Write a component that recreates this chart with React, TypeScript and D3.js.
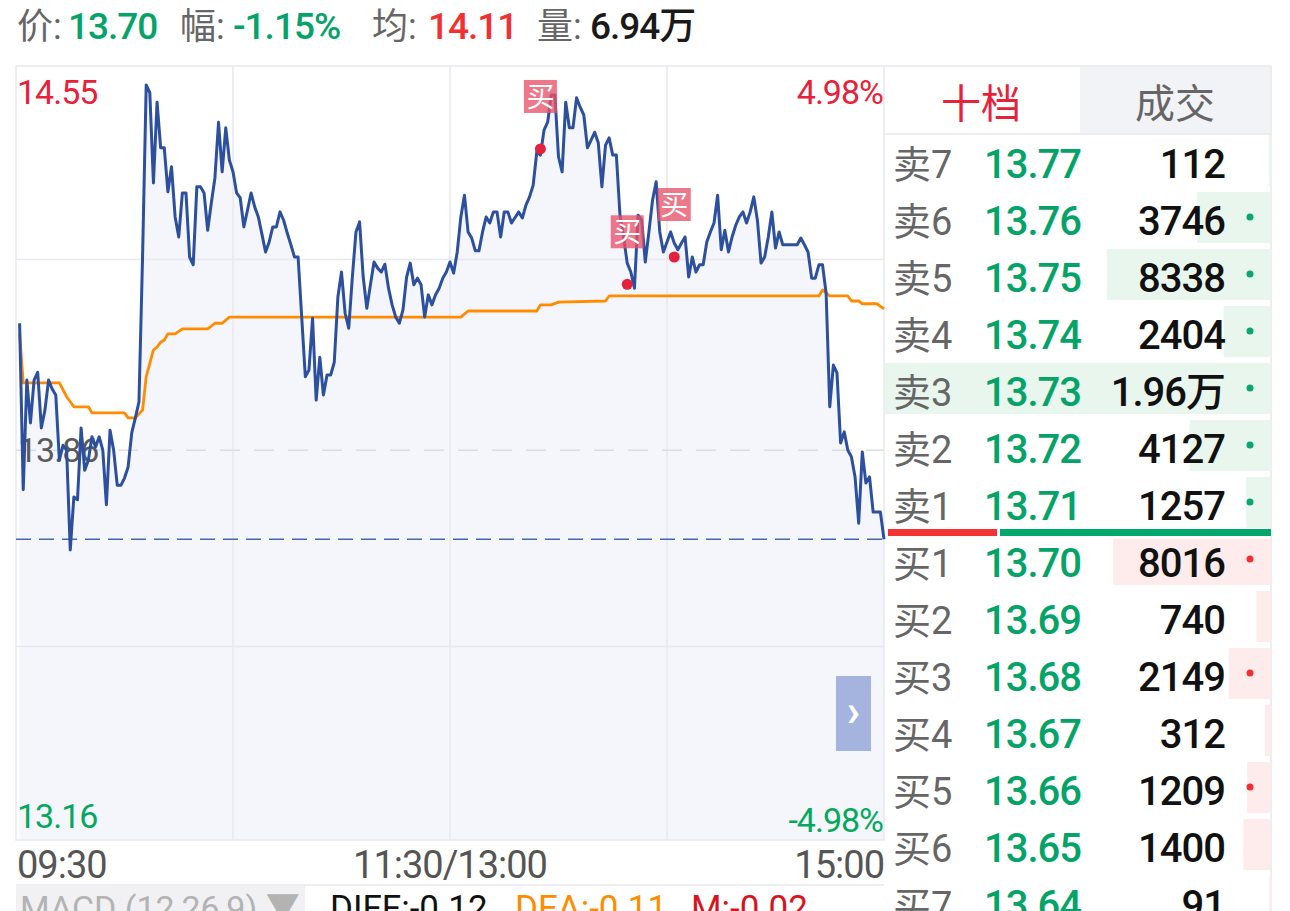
import React from 'react';
import * as d3 from 'd3';

// ---- intraday price, one value per minute (minute 1..240)
const prices: number[] = [
  14.088, 13.789, 13.986, 13.909, 13.986, 14.000, 13.900, 13.932, 13.986, 13.970,
  13.959, 13.842, 13.869, 13.860, 13.681, 13.776, 13.771, 13.900, 13.824, 13.842,
  13.884, 13.866, 13.884, 13.860, 13.762, 13.896, 13.860, 13.797, 13.797, 13.810,
  13.830, 13.891, 13.918, 13.947, 14.209, 14.516, 14.502, 14.340, 14.485, 14.403,
  14.403, 14.324, 14.369, 14.279, 14.243, 14.322, 14.322, 14.207, 14.193, 14.333,
  14.333, 14.322, 14.255, 14.304, 14.349, 14.449, 14.360, 14.439, 14.381, 14.360,
  14.322, 14.313, 14.261, 14.291, 14.322, 14.297, 14.279, 14.248, 14.216, 14.234,
  14.261, 14.261, 14.288, 14.273, 14.250, 14.229, 14.207, 14.207, 14.099, 13.992,
  14.004, 14.097, 13.950, 14.027, 13.959, 13.995, 13.995, 14.018, 14.135, 14.180,
  14.106, 14.079, 14.171, 14.252, 14.270, 14.171, 14.115, 14.157, 14.198, 14.187,
  14.180, 14.194, 14.151, 14.121, 14.099, 14.088, 14.112, 14.171, 14.196, 14.157,
  14.169, 14.157, 14.099, 14.139, 14.121, 14.139, 14.151, 14.169, 14.180, 14.198,
  14.178, 14.216, 14.279, 14.318, 14.252, 14.241, 14.218, 14.218, 14.252, 14.279,
  14.268, 14.288, 14.288, 14.243, 14.288, 14.288, 14.268, 14.278, 14.288, 14.277,
  14.300, 14.315, 14.336, 14.396, 14.390, 14.435, 14.449, 14.498, 14.498, 14.387,
  14.360, 14.485, 14.439, 14.439, 14.493, 14.476, 14.462, 14.403, 14.417, 14.431,
  14.412, 14.333, 14.408, 14.421, 14.390, 14.390, 14.282, 14.243, 14.196, 14.180,
  14.151, 14.282, 14.273, 14.198, 14.252, 14.309, 14.342, 14.252, 14.216, 14.234,
  14.252, 14.232, 14.220, 14.232, 14.243, 14.171, 14.207, 14.180, 14.193, 14.193,
  14.234, 14.252, 14.268, 14.318, 14.220, 14.255, 14.216, 14.243, 14.264, 14.279,
  14.288, 14.268, 14.288, 14.315, 14.273, 14.196, 14.207, 14.243, 14.288, 14.223,
  14.252, 14.229, 14.229, 14.229, 14.229, 14.229, 14.241, 14.229, 14.216, 14.169,
  14.169, 14.193, 14.193, 14.142, 13.938, 14.013, 13.999, 13.873, 13.893, 13.860,
  13.848, 13.812, 13.729, 13.857, 13.801, 13.812, 13.749, 13.749, 13.749, 13.700,
];

// ---- average price line: [minute, price] vertices
const avgMinutes: number[] = [1, 2, 12, 14, 16, 20, 21, 30, 31, 33, 35, 36, 38, 39, 40, 41, 42, 44, 46, 53, 55, 57, 59, 123, 125, 144, 145, 148, 150, 163, 164, 222, 223, 225, 230, 231, 233, 234, 238, 240];
const avgValues: number[] = [14.070, 13.981, 13.981, 13.956, 13.938, 13.938, 13.927, 13.927, 13.918, 13.918, 13.932, 13.992, 14.040, 14.045, 14.054, 14.058, 14.069, 14.069, 14.078, 14.078, 14.088, 14.088, 14.099, 14.099, 14.110, 14.110, 14.121, 14.121, 14.126, 14.128, 14.137, 14.137, 14.148, 14.137, 14.137, 14.128, 14.128, 14.123, 14.123, 14.114];

const priceMax = 14.55;
const priceMin = 13.16;
const prevClose = 13.86;
const lastPrice = 13.70;
const pctUp = '4.98%';
const pctDown = '-4.98%';
const timeLabels = ['09:30', '11:30/13:00', '15:00'];

const buyMarkMinutes = [145, 169, 182];
const buyMarkPrices = [14.401, 14.158, 14.207];

// header
const headerLabels = ['价:', '幅:', '均:', '量:'];
const headerValues = ['13.70', '-1.15%', '14.11', '6.94万'];

// order book
const tabs = ['十档', '成交'];
const sellLabels = ['卖7', '卖6', '卖5', '卖4', '卖3', '卖2', '卖1'];
const sellPrices = ['13.77', '13.76', '13.75', '13.74', '13.73', '13.72', '13.71'];
const sellVols = [112, 3746, 8338, 2404, 19600, 4127, 1257];
const sellVolText = ['112', '3746', '8338', '2404', '1.96万', '4127', '1257'];
const sellDots = [false, true, true, true, true, true, true];
const buyLabels = ['买1', '买2', '买3', '买4', '买5', '买6', '买7'];
const buyPrices = ['13.70', '13.69', '13.68', '13.67', '13.66', '13.65', '13.64'];
const buyVols = [8016, 740, 2149, 312, 1209, 1400, 91];
const buyVolText = ['8016', '740', '2149', '312', '1209', '1400', '91'];
const buyDots = [true, false, true, false, true, false, false];

const macdLabel = 'MACD (12,26,9) ▼';
const macdItems = ['DIFF:-0.12', 'DEA:-0.11', 'M:-0.02'];

const NUM = "Roboto, 'Noto Sans CJK SC', sans-serif";
const GREEN = '#06a369';
const RED = '#e8213b';
const GRAY = '#666666';
const GRID = '#e8e8ee';

export default function App() {
  const L = 16, R = 884, T = 66, B = 840;
  const x = d3.scaleLinear().domain([0, 240]).range([L, R]);
  const y = d3.scaleLinear().domain([priceMin, priceMax]).range([B, T]);

  const line = d3.line<number>().x((_, i) => x(i + 1)).y((d) => y(d));
  const area = d3.area<number>().x((_, i) => x(i + 1)).y0(B).y1((d) => y(d));
  const avgLine = d3.line<number>().x((_, i) => x(avgMinutes[i])).y((d) => y(d));

  const hq = [0.25, 0.75].map((f) => y(priceMin + (priceMax - priceMin) * f));
  const vq = [60, 120, 180].map((m) => x(m));

  const PL = 885, PR = 1271;
  const vol = d3.scaleLinear().domain([0, 19600]).range([0, PR - PL]);
  const rowH = 57;
  const sellTop = 135;
  const buyTop = 534;

  const headerX = [17, 180, 372, 537];
  const headerValX = [68, 233, 428, 590];
  const headerColors = [GREEN, GREEN, '#f23030', '#1a1a1a'];

  const timeX = [L + 1, (L + R) / 2, R];
  const timeAnchor = ['start', 'middle', 'end'] as const;

  return (
    <div style={{ position: 'absolute', left: 0, top: 0 }}>
      <svg width={1290} height={911} style={{ display: 'block', background: '#fff' }}>
        {/* header */}
        {headerLabels.map((h, i) => (
          <g key={h}>
            <text x={headerX[i]} y={39} fontFamily={NUM} fontSize={36} fill={GRAY}>{h}</text>
            <text x={headerValX[i]} y={39} fontFamily={NUM} fontSize={37} fontWeight={500} letterSpacing={-1} fill={headerColors[i]}>{headerValues[i]}</text>
          </g>
        ))}

        {/* chart background fill */}
        <path d={area(prices) || ''} fill="#f4f6fc" />

        {/* grid */}
        <rect x={L} y={T} width={R - L} height={B - T} fill="none" stroke={GRID} strokeWidth={1.5} />
        {hq.map((v, i) => (
          <line key={'h' + i} x1={L} x2={R} y1={v} y2={v} stroke={GRID} strokeWidth={1.5} />
        ))}
        {vq.map((v, i) => (
          <line key={'v' + i} x1={v} x2={v} y1={T} y2={B} stroke={GRID} strokeWidth={1.5} />
        ))}
        <line x1={L} x2={R} y1={y(prevClose)} y2={y(prevClose)} stroke="#dcdce2" strokeWidth={1.5} strokeDasharray="20 14" />

        {/* axis labels inside */}
        <text x={L + 1} y={104} fontFamily={NUM} fontSize={34} letterSpacing={-1} fill={RED}>{priceMax.toFixed(2)}</text>
        <text x={R - 1} y={104} fontFamily={NUM} fontSize={34} letterSpacing={-1} fill={RED} textAnchor="end">{pctUp}</text>
        <text x={L + 1} y={828} fontFamily={NUM} fontSize={34} letterSpacing={-1} fill="#05a85c">{priceMin.toFixed(2)}</text>
        <text x={R - 1} y={832} fontFamily={NUM} fontSize={34} letterSpacing={-1} fill="#05a85c" textAnchor="end">{pctDown}</text>
        <text x={L + 2} y={y(prevClose) + 12} fontFamily={NUM} fontSize={34} letterSpacing={-1} fill="#5a5a5a">{prevClose.toFixed(2)}</text>

        {/* current price dashed */}
        <line x1={L} x2={R} y1={y(lastPrice)} y2={y(lastPrice)} stroke="#4866b0" strokeWidth={1.5} strokeDasharray="15 8" />

        {/* lines */}
        <path d={avgLine(avgValues) || ''} fill="none" stroke="#ff8c00" strokeWidth={2.8} strokeLinejoin="round" />
        <path d={line(prices) || ''} fill="none" stroke="#2c4f9e" strokeWidth={3} strokeLinejoin="round" />

        {/* buy markers */}
        {buyMarkMinutes.map((m, i) => {
          const cx = x(m), cy = y(buyMarkPrices[i]);
          return (
            <g key={'bm' + i}>
              <rect x={cx - 16.5} y={cy - 69} width={33} height={33} fill="rgba(232,82,104,0.78)" />
              <text x={cx} y={cy - 42} textAnchor="middle" fontFamily="'Noto Sans CJK SC', sans-serif" fontSize={28} fill="#fff">买</text>
              <circle cx={cx} cy={cy} r={5.5} fill="#e3213d" />
            </g>
          );
        })}

        {/* side button */}
        <rect x={836} y={676} width={35} height={75} fill="#a4b4df" />
        <text x={853.5} y={726} textAnchor="middle" fontFamily={NUM} fontSize={44} fontWeight={700} fill="#fff">›</text>

        {/* time axis */}
        {timeLabels.map((t, i) => (
          <text key={t} x={timeX[i]} y={878} textAnchor={timeAnchor[i]} fontFamily={NUM} fontSize={38} letterSpacing={-1} fill="#555">{t}</text>
        ))}

        {/* MACD row */}
        <line x1={L} x2={R} y1={885} y2={885} stroke={GRID} strokeWidth={1.5} />
        <rect x={L} y={886} width={289} height={25} fill="#f1f1f3" />
        <text x={20} y={920} fontFamily={NUM} fontSize={34} fill="#b3b3b3">{macdLabel}</text>
        <text x={330} y={920} fontFamily={NUM} fontSize={35} fill="#111">{macdItems[0]}</text>
        <text x={515} y={920} fontFamily={NUM} fontSize={35} fill="#ff8c00">{macdItems[1]}</text>
        <text x={691} y={920} fontFamily={NUM} fontSize={35} fill="#d9141e">{macdItems[2]}</text>

        {/* order book panel */}
        <rect x={1080} y={T} width={PR - 1080} height={134 - T} fill="#f2f3f7" />
        <line x1={PL} x2={PR} y1={T} y2={T} stroke={GRID} strokeWidth={1.5} />
        <line x1={PL} x2={PR} y1={134} y2={134} stroke={GRID} strokeWidth={1.5} />
        <line x1={PR} x2={PR} y1={T} y2={911} stroke={GRID} strokeWidth={1.5} />
        <text x={981} y={118} textAnchor="middle" fontFamily="'Noto Sans CJK SC', sans-serif" fontSize={40} fill={RED}>{tabs[0]}</text>
        <text x={1175} y={118} textAnchor="middle" fontFamily="'Noto Sans CJK SC', sans-serif" fontSize={40} fill={GRAY}>{tabs[1]}</text>

        {sellLabels.map((lab, i) => {
          const top = sellTop + i * rowH;
          const w = vol(sellVols[i]);
          return (
            <g key={lab}>
              <rect x={PR - w} y={top} width={w} height={51} fill="#e8f6ee" />
              <text x={893} y={top + 43} fontFamily={NUM} fontSize={38} fill={GRAY}>{lab}</text>
              <text x={984} y={top + 43} fontFamily={NUM} fontSize={40} fontWeight={500} letterSpacing={-1} fill={GREEN}>{sellPrices[i]}</text>
              <text x={1225} y={top + 43} textAnchor="end" fontFamily={NUM} fontSize={40} fontWeight={500} letterSpacing={-1} fill="#111">{sellVolText[i]}</text>
              {sellDots[i] && <circle cx={1250} cy={top + 25} r={3.5} fill="#0aa66b" />}
            </g>
          );
        })}

        {buyLabels.map((lab, i) => {
          const top = buyTop + i * rowH;
          const w = vol(buyVols[i]);
          const by = i === 0 ? top + 5 : top;
          return (
            <g key={lab}>
              <rect x={PR - w} y={by} width={w} height={top + 51 - by} fill="#fdeceb" />
              <text x={893} y={top + 43} fontFamily={NUM} fontSize={38} fill={GRAY}>{lab}</text>
              <text x={984} y={top + 43} fontFamily={NUM} fontSize={40} fontWeight={500} letterSpacing={-1} fill={GREEN}>{buyPrices[i]}</text>
              <text x={1225} y={top + 43} textAnchor="end" fontFamily={NUM} fontSize={40} fontWeight={500} letterSpacing={-1} fill="#111">{buyVolText[i]}</text>
              {buyDots[i] && <circle cx={1250} cy={top + 25} r={3.5} fill="#f03030" />}
            </g>
          );
        })}

        {/* divider between asks and bids */}
        <rect x={888} y={529} width={109} height={7} fill="#f43434" />
        <rect x={1000} y={529} width={PR - 1000} height={7} fill="#00a86b" />
      </svg>
    </div>
  );
}
